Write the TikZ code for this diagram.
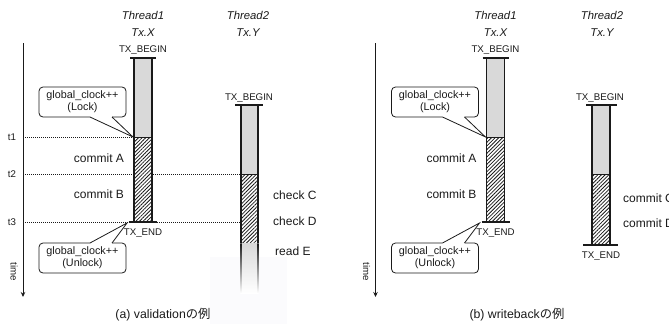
\documentclass[tikz,border=0pt]{standalone}
\usepackage{fontspec}
\setmainfont{Liberation Sans}
\newfontfamily\jpfont{Noto Sans CJK JP}
\usetikzlibrary{patterns.meta,arrows.meta}

\definecolor{ink}{HTML}{1A1A1A}
\definecolor{barfill}{HTML}{D9D9D9}
\definecolor{haze}{RGB}{251,251,253}

\tikzset{
  txt/.style={text=ink, inner sep=0pt, font=\fontsize{12}{14}\selectfont},
  hdr/.style={txt, font=\fontsize{11.3}{13}\selectfont\itshape},
  tag/.style={txt, font=\fontsize{9.7}{11}\selectfont},
  note/.style={txt, font=\fontsize{10.8}{12}\selectfont, align=center},
  caption/.style={txt, font=\fontsize{12.3}{14}\selectfont},
  bargray/.style={fill=barfill},
  hatch/.style={fill=white, postaction={pattern={Lines[angle=45,distance=2.6pt,line width=0.8pt]}, pattern color=ink}},
  rail/.style={draw=ink, line width=1.2pt},
  endcap/.style={draw=ink, line width=1.8pt},
  guide/.style={draw=ink, line width=1pt, dash pattern=on 1pt off 1pt},
  balloon/.style={draw=ink, line width=0.8pt},
  timeaxis/.style={draw=ink, line width=1pt, -{Stealth[length=5pt,width=4.5pt]}},
  % time axis, Thread1 bar with its commits and both clock callouts
  pics/threadone/.style={code={
    \coordinate (axtop) at (23,43);
    \coordinate (axbot) at (23,297);
    \draw[timeaxis] (axtop) -- (axbot);
    \node[tag, rotate=-90] (time) at (14,272) {time};
    \node[hdr] (thr) at (143,15) {Thread1};
    \node[hdr] (tx) at (143,33) {Tx.X};
    \node[tag] (begin) at (143,50) {TX\_BEGIN};
    \path[bargray] (134,58) rectangle (152,137);
    \path[hatch] (134,137) rectangle (152,222);
    \draw[draw=ink, line width=0.6pt] (134,137) -- (152,137);
    \draw[rail] (134,58) -- (134,222) (152,58) -- (152,222);
    \draw[endcap] (130,58) -- (156,58) (129,222) -- (157,222);
    \node[tag] (end) at (143,233) {TX\_END};
    \node[txt] (ca) at (99,158) {commit A};
    \node[txt] (cb) at (99,194) {commit B};
    % lock callout
    \node[note] (lock) at (82.5,102) {global\_clock++\\(Lock)};
    \coordinate (locktip) at (133,137);
    \draw[balloon, rounded corners=4pt] (112,117) -- (126,117) -- (126,87) -- (39,87) -- (39,117) -- (90,117);
    \draw[balloon] (90,117) -- (locktip) -- (112,117);
    % unlock callout
    \node[note] (unlock) at (82.5,258) {global\_clock++\\(Unlock)};
    \coordinate (unlocktip) at (127,223);
    \draw[balloon, rounded corners=4pt] (112,243) -- (126,243) -- (126,273) -- (39,273) -- (39,243) -- (90,243);
    \draw[balloon] (90,243) -- (unlocktip) -- (112,243);
  }}
}

\begin{document}
\begin{tikzpicture}[x=1pt, y=-1pt]
  \useasboundingbox (0,0) rectangle (669,324);
  \clip (0,0) rectangle (669,324);

  % ---------- (a) validation ----------
  \node[tag] (t1) at (12,137) {t1};
  \node[tag] (t2) at (12,174) {t2};
  \node[tag] (t3) at (12,222) {t3};
  \coordinate (g1) at (134,137);
  \coordinate (g2) at (241,174);
  \coordinate (g3) at (241,222);
  \draw[guide] (25,137) -- (g1);
  \draw[guide] (25,174) -- (g2);
  \draw[guide] (25,222) -- (g3);

  \pic (a) at (0,0) {threadone};

  \node[hdr] (athr) at (248,15) {Thread2};
  \node[hdr] (atx) at (248,33) {Tx.Y};
  \node[tag] (abegin) at (249,98) {TX\_BEGIN};
  \fill[haze] (210,257) rectangle (287,324);
  \path[bargray] (241,105) rectangle (258,174);
  \path[hatch] (241,174) rectangle (258,243);
  \draw[draw=ink, line width=0.6pt] (241,174) -- (258,174) (241,243) -- (258,243);
  \shade[top color=barfill, bottom color=white] (241,243) rectangle (258,293);
  \draw[rail] (241,105) -- (241,243) (258,105) -- (258,243);
  \shade[top color=ink, bottom color=white] (240.4,243) rectangle (241.6,293);
  \shade[top color=ink, bottom color=white] (257.4,243) rectangle (258.6,293);
  \draw[endcap] (235,105) -- (263,105);
  \node[txt, anchor=west] (chkc) at (273,195) {check C};
  \node[txt, anchor=west] (chkd) at (273,221) {check D};
  \node[txt, anchor=west] (rde) at (275,251) {read E};

  \node[caption] (capa) at (163,315) {(a) validation{\jpfont の例}};

  % ---------- (b) writeback ----------
  \pic (b) at (352.5,0) {threadone};

  \node[hdr] (bthr) at (602,15) {Thread2};
  \node[hdr] (btx) at (602,33) {Tx.Y};
  \node[tag] (bbegin) at (600,98) {TX\_BEGIN};
  \path[bargray] (592,105) rectangle (610,174);
  \path[hatch] (592,174) rectangle (610,245);
  \draw[draw=ink, line width=0.6pt] (592,174) -- (610,174);
  \draw[rail] (592,105) -- (592,245) (610,105) -- (610,245);
  \draw[endcap] (586,105) -- (617,105) (583,245) -- (618,245);
  \node[tag] (bend) at (601,256) {TX\_END};
  \node[txt, anchor=west] (cmc) at (623,198) {commit C};
  \node[txt, anchor=west] (cmd) at (623,223) {commit D};

  \node[caption] (capb) at (517,315) {(b) writeback{\jpfont の例}};
\end{tikzpicture}
\end{document}
